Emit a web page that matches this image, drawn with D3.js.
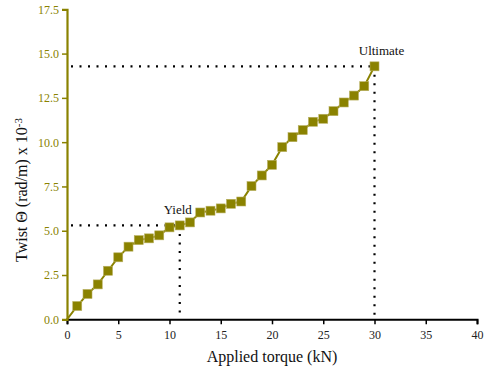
<!DOCTYPE html>
<html><head><meta charset="utf-8">
<script src="https://cdn.jsdelivr.net/npm/d3@7"></script>
<style>body{margin:0;background:#fff}svg{display:block}</style>
</head><body>
<script>
const torque = [0,1,2,3,4,5,6,7,8,9,10,11,12,13,14,15,16,17,18,19,20,21,22,23,24,25,26,27,28,29,30];
const twist  = [0,0.75,1.43,1.97,2.74,3.5,4.1,4.47,4.57,4.74,5.19,5.3,5.47,6.03,6.13,6.26,6.52,6.65,7.52,8.12,8.72,9.72,10.28,10.68,11.15,11.32,11.75,12.24,12.63,13.16,14.28];
const xTicks = [0,5,10,15,20,25,30,35,40];
const yTicks = [0,2.5,5,7.5,10,12.5,15,17.5];
const yieldPt = {x:11, y:5.3, label:"Yield"};
const ultPt = {x:30, y:14.28, label:"Ultimate"};

const W=485,H=374;
const olive="#8a8200";
const svg=d3.select("body").append("svg").attr("width",W).attr("height",H);
const x=d3.scaleLinear().domain([0,40]).range([67,477]);
const y=d3.scaleLinear().domain([0,17.5]).range([319.3,9.3]);
const serif="'Liberation Serif','Times New Roman',serif";

// dotted guides
const guides=svg.append("g").attr("stroke","#000").attr("stroke-width",2.2).attr("stroke-dasharray","2,6.5").attr("fill","none");
[yieldPt,ultPt].forEach(p=>{
  guides.append("line").attr("x1",x(0)+4).attr("x2",x(p.x)).attr("y1",y(p.y)).attr("y2",y(p.y));
  guides.append("line").attr("x1",x(p.x)).attr("x2",x(p.x)).attr("y1",y(p.y)).attr("y2",y(0));
});

// x axis
const gx=svg.append("g").attr("transform",`translate(0,${y(0)})`);
gx.call(d3.axisBottom(x).tickValues(d3.range(0,40.1,2.5)).tickSize(4).tickFormat(""));
gx.call(d3.axisBottom(x).tickValues(xTicks).tickSize(5).tickFormat(d3.format("d")));
gx.selectAll("path").attr("stroke","#000").attr("stroke-width",2);
gx.selectAll("line").attr("stroke","#000").attr("stroke-width",1.5);
gx.selectAll("text").attr("font-family",serif).attr("font-size",12).attr("fill","#222").attr("dy","1.0em");

// y axis
const gy=svg.append("g").attr("transform",`translate(${x(0)},0)`);
gy.call(d3.axisLeft(y).tickValues(d3.range(0,17.6,1.25)).tickSize(3).tickFormat(""));
gy.call(d3.axisLeft(y).tickValues(yTicks).tickSize(5).tickFormat(d3.format(".1f")));
gy.selectAll("path").attr("stroke",olive).attr("stroke-width",2.2);
gy.selectAll("line").attr("stroke",olive).attr("stroke-width",1.5);
gy.selectAll("text").attr("font-family",serif).attr("font-size",12).attr("fill",olive);

// line
svg.append("path").datum(torque.map((t,i)=>[t,twist[i]]))
  .attr("fill","none").attr("stroke",olive).attr("stroke-width",2)
  .attr("d",d3.line().x(d=>x(d[0])).y(d=>y(d[1])));
// markers
svg.append("g").selectAll("rect").data(torque.map((t,i)=>[t,twist[i]]).slice(1)).join("rect")
  .attr("x",d=>x(d[0])-4.5).attr("y",d=>y(d[1])-4.5).attr("width",9).attr("height",9)
  .attr("fill",olive).attr("stroke","#b8b060").attr("stroke-width",0.6);

// annotations
svg.append("text").attr("x",x(yieldPt.x)-2).attr("y",y(yieldPt.y)-11).attr("text-anchor","middle")
  .attr("font-family",serif).attr("font-size",13).attr("fill","#111").text(yieldPt.label);
svg.append("text").attr("x",x(ultPt.x)+7).attr("y",y(ultPt.y)-11).attr("text-anchor","middle")
  .attr("font-family",serif).attr("font-size",13).attr("fill","#111").text(ultPt.label);

// titles
svg.append("text").attr("x",272).attr("y",362).attr("text-anchor","middle")
  .attr("font-family",serif).attr("font-size",16).attr("fill","#111").text("Applied torque (kN)");
const yt=svg.append("text").attr("transform","translate(27,190) rotate(-90)").attr("text-anchor","middle")
  .attr("font-family",serif).attr("font-size",16).attr("fill","#111");
yt.append("tspan").text("Twist Θ (rad/m) x 10");
yt.append("tspan").attr("dy","-0.45em").attr("font-size",11).text("-3");
</script>
</body></html>
